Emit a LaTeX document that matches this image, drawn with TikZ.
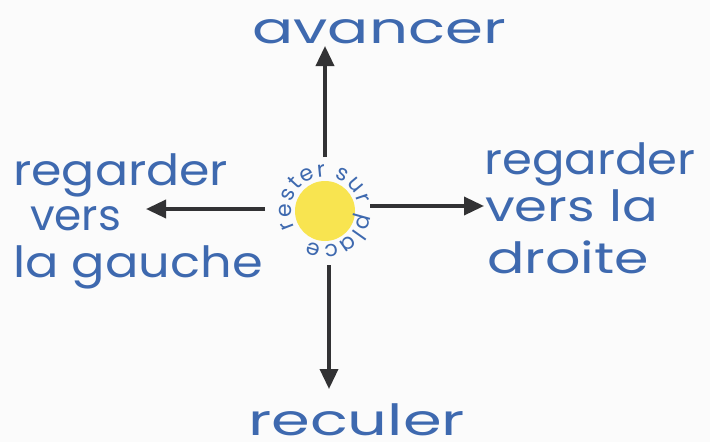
\documentclass[tikz,border=0pt]{standalone}
\usepackage{fontspec}
\setmainfont{Poppins}
\usetikzlibrary{arrows.meta,decorations.text}
\definecolor{ink}{RGB}{62,105,175}
\definecolor{pen}{RGB}{50,50,52}
\definecolor{sun}{RGB}{248,228,80}
\tikzset{
  lbl/.style={text=ink,font=\fontsize{43}{50}\selectfont\addfontfeatures{FakeStretch=#1}, inner sep=0pt},
  lbl/.default=1,
  arr/.style={draw=pen,line width=3.5pt,-{Triangle[length=20pt,width=18pt]}},
}
\begin{document}
\begin{tikzpicture}[x=1pt,y=-1pt]
\useasboundingbox[fill=white!97!gray] (0,0) rectangle (710,442);
\node[circle,fill=sun,minimum size=60pt,inner sep=0pt] (c) at (325,211) {};
\coordinate (up) at (325,46);
\coordinate (dn) at (329,389);
\coordinate (lf) at (146,209);
\coordinate (rt) at (484,206);
\coordinate (ups) at (325,157);
\coordinate (dns) at (329,265);
\coordinate (lfs) at (265,209);
\coordinate (rts) at (370,206);
\draw[arr] (ups) -- (up);
\draw[arr] (dns) -- (dn);
\draw[arr] (lfs) -- (lf);
\draw[arr] (rts) -- (rt);
\node[lbl=1.42,anchor=base west] (av) at (252,43) {avancer};
\node[lbl=1.45,anchor=base west] (re) at (248,435) {reculer};
\node[lbl=1.14,anchor=base west] (g1) at (13,185) {regarder};
\node[lbl=1.02,anchor=base west] (g2) at (30,230) {vers};
\node[lbl=1.15,anchor=base west] (g3) at (13,277) {la gauche};
\node[lbl=1.12,anchor=base west] (d1) at (484,174) {regarder};
\node[lbl=1.23,anchor=base west] (d2) at (485,221) {vers la};
\node[lbl=1.29,anchor=base west] (d3) at (487,273) {droite};
\path[decorate,decoration={text along path,text align=fit to path,
  text={|\color{ink}\fontsize{22}{22}\selectfont|rester sur place}}]
  (c.center) ++(152:34) arc[start angle=152,end angle=478,radius=34];
\end{tikzpicture}
\end{document}
